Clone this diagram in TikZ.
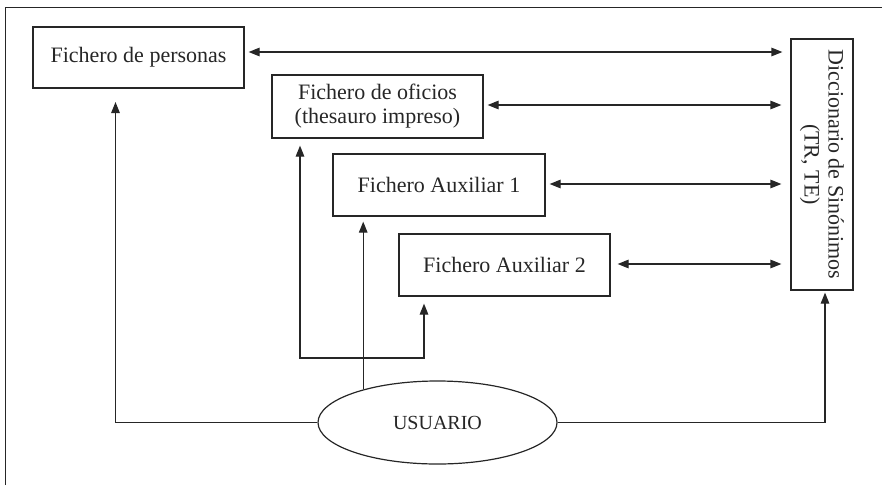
\documentclass[tikz,border=0pt]{standalone}
\usepackage{fontspec}
\setmainfont{Liberation Serif}
\usetikzlibrary{arrows.meta,shapes.geometric}
\definecolor{ink}{HTML}{262626}
\begin{document}
\begin{tikzpicture}[x=1pt,y=-1pt,
  box/.style={draw=ink,line width=1.2pt,text=ink,inner sep=0pt,align=center,
    font=\fontsize{22}{24}\selectfont},
  tipa/.style={-{Triangle[length=11pt,width=8.5pt]}},
  conn/.style={draw=ink,line width=1.2pt},
  biarrow/.style={conn,{Triangle[length=11pt,width=8.5pt]}-{Triangle[length=11pt,width=8.5pt]}},
  uparrow/.style={conn,tipa},
  frame/.style={draw=ink,line width=1.3pt}
]
\useasboundingbox (0,0) rectangle (882,485);
\draw[frame] (5.5,485) -- (5.5,7.5) -- (882,7.5);

\node[box,minimum width=211pt,minimum height=61pt] (pers) at (138.5,57.5) {Fichero de personas};
\node[box,minimum width=211pt,minimum height=63pt] (ofic) at (377.5,106.5) {Fichero de oficios\\(thesauro impreso)};
\node[box,minimum width=212pt,minimum height=62pt] (aux1) at (439,185) {Fichero Auxiliar 1};
\node[box,minimum width=211pt,minimum height=62pt] (aux2) at (504.5,265) {Fichero Auxiliar 2};
\node[box,rotate=-90,minimum width=251pt,minimum height=62pt] (dicc) at (822,164.5) {Diccionario de Sinónimos\\(TR, TE)};
\node[ellipse,draw=ink,line width=1.2pt,text=ink,inner sep=0pt,minimum width=239pt,minimum height=83pt,
  font=\fontsize{20}{24}\selectfont] (usu) at (437.5,422.5) {USUARIO};

% horizontal double arrows (dicc is rotated: its south anchor is its left side)
\coordinate (h1) at (0,52);
\coordinate (h2) at (0,105);
\coordinate (h3) at (0,184);
\coordinate (h4) at (0,264);
\draw[biarrow,shorten <=4pt,shorten >=8pt] (pers.east |- h1) -- (dicc.south |- h1);
\draw[biarrow,shorten <=4pt,shorten >=9pt] (ofic.east |- h2) -- (dicc.south |- h2);
\draw[biarrow,shorten <=4pt,shorten >=9pt] (aux1.east |- h3) -- (dicc.south |- h3);
\draw[biarrow,shorten <=7pt,shorten >=9pt] (aux2.east |- h4) -- (dicc.south |- h4);

% from USUARIO
\coordinate (pt1) at (115.5,102);
\draw[uparrow] (usu.west) -| (pt1);
\draw[uparrow] (usu.east) -| ([xshift=3pt,yshift=-2pt]dicc.east);
\draw[uparrow,shorten >=5pt] (usu.156.8) -- (usu.156.8 |- aux1.south);

% branch to oficios and auxiliar 2
\coordinate (jn) at (362,358);
\draw[uparrow] (jn) -| ([shift={(-77.5,7)}]ofic.south);
\draw[uparrow] (jn) -| ([shift={(-80.5,7)}]aux2.south);
\end{tikzpicture}
\end{document}
